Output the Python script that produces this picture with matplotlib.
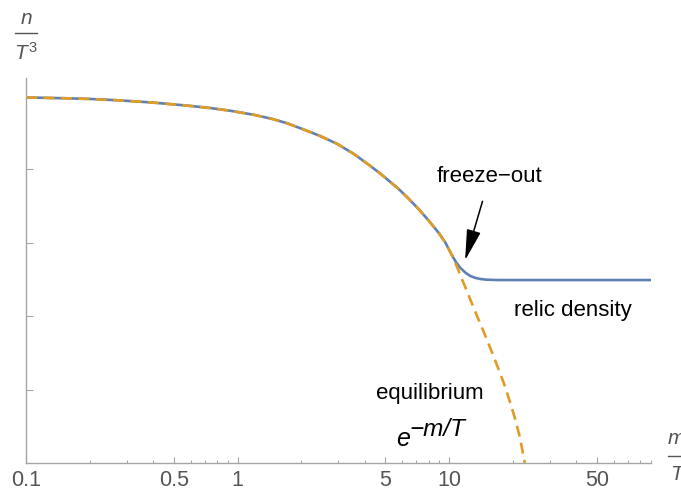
import numpy as np
import matplotlib
matplotlib.use("Agg")
import matplotlib.pyplot as plt
from matplotlib.lines import Line2D
from matplotlib.ticker import FixedLocator, FixedFormatter, LogLocator, NullFormatter

plt.rcParams['font.family'] = ['Liberation Sans', 'DejaVu Sans']
plt.rcParams['mathtext.fontset'] = 'custom'
plt.rcParams['mathtext.rm'] = 'Liberation Sans'
plt.rcParams['mathtext.it'] = 'Liberation Sans:italic'

# shared part (equilibrium tracking)
x_common = [0.1, 0.15, 0.2, 0.28, 0.4, 0.575, 0.75, 0.92, 1.19, 1.45, 1.71, 2.05, 2.46, 2.95, 3.53,
            4.1, 4.7, 5.2, 5.77, 6.4, 7.18, 8.0, 8.94, 9.6, 10.3]
y_common = [0.995, 0.993, 0.991, 0.987, 0.981, 0.973, 0.966, 0.959, 0.948, 0.937, 0.925, 0.908, 0.890,
            0.869, 0.842, 0.815, 0.789, 0.768, 0.746, 0.721, 0.691, 0.660, 0.626, 0.600, 0.566]

# relic density branch
x_relic = [10.8, 11.3, 12.0, 12.6, 13.3, 14.0, 15.0, 17.0, 25.0, 40.0, 90.0]
y_relic = [0.546, 0.531, 0.517, 0.509, 0.504, 0.501, 0.499, 0.498, 0.498, 0.498, 0.498]

# equilibrium branch
x_eq = [11.0, 11.8, 12.7, 13.6, 14.7, 15.8, 17.0, 18.2, 19.3, 20.4, 21.6, 22.8]
y_eq = [0.528, 0.485, 0.440, 0.398, 0.352, 0.307, 0.260, 0.215, 0.170, 0.125, 0.070, 0.0]

major_x = [0.1, 0.5, 1, 5, 10, 50]
major_labels = ['0.1', '0.5', '1', '5', '10', '50']
y_ticks = [0.2, 0.4, 0.6, 0.8]

blue = '#5E81B5'
orange = '#E19C24'
gray = '#555555'
axis_gray = '#a6a6a6'

W, H = 681, 491
fig = plt.figure(figsize=(W / 100, H / 100), dpi=100)
ax = fig.add_axes([26 / W, 1 - 463 / H, (651 - 26) / W, (463 - 78) / H])

ax.plot(x_common + x_relic, y_common + y_relic, color=blue, lw=1.9, solid_capstyle='butt')
ax.plot(x_common + x_eq, y_common + y_eq, color=orange, lw=1.9, dashes=(4.2, 2.4))

ax.set_xscale('log')
ax.set_xlim(0.1, 90)
ax.set_ylim(0, 1.048)

ax.xaxis.set_major_locator(FixedLocator(major_x))
ax.xaxis.set_major_formatter(FixedFormatter(major_labels))
ax.xaxis.set_minor_locator(LogLocator(base=10, subs=np.arange(2, 10)))
ax.xaxis.set_minor_formatter(NullFormatter())
ax.set_yticks(y_ticks)
ax.set_yticklabels([])

for s in ['top', 'right']:
    ax.spines[s].set_visible(False)
for s in ['left', 'bottom']:
    ax.spines[s].set_color(axis_gray)
    ax.spines[s].set_linewidth(1.0)

ax.tick_params(axis='x', which='major', direction='in', length=4.5, width=0.8, color=axis_gray,
               labelsize=15.5, labelcolor=gray, pad=5)
ax.tick_params(axis='x', which='minor', direction='in', length=2.5, width=0.7, color=axis_gray)
ax.tick_params(axis='y', which='major', direction='in', length=5, width=0.8, color=axis_gray)

ax.annotate('freeze\u2212out', xy=(11.9, 0.552), xytext=(15.6, 0.781), fontsize=16,
            ha='center', va='center',
            arrowprops=dict(arrowstyle='-|>,head_length=0.95,head_width=0.22', color='black',
                            lw=1.1, mutation_scale=20, shrinkA=9, shrinkB=0))
ax.text(38.5, 0.416, 'relic density', fontsize=16, ha='center', va='center')
ax.text(8.13, 0.19, 'equilibrium', fontsize=16, ha='center', va='center')

# e^(-m/T): exponent drawn at nearly full size, as in the original
fig.text(396 / W, 1 - 446 / H, 'e', fontsize=18, style='italic', ha='left', va='baseline')
fig.text(409 / W, 1 - 436 / H, '\u2212m/T', fontsize=17.5, style='italic', ha='left', va='baseline')

# axis labels drawn as stacked fractions
fig.text(26 / W, 1 - 18 / H, 'n', fontsize=15, style='italic', color=gray, ha='center', va='center')
fig.add_artist(Line2D([15 / W, 37 / W], [1 - 33 / H, 1 - 33 / H], color=gray, lw=1.0))
fig.text(26 / W, 1 - 53 / H, r'$T^{3}$', fontsize=15, color=gray, ha='center', va='center')

fig.text(676 / W, 1 - 438 / H, 'm', fontsize=15, style='italic', color=gray, ha='center', va='center')
fig.add_artist(Line2D([668 / W, 690 / W], [1 - 456 / H, 1 - 456 / H], color=gray, lw=1.0))
fig.text(676 / W, 1 - 475 / H, 'T', fontsize=15, style='italic', color=gray, ha='center', va='center')

fig.savefig('out.png', dpi=100)
